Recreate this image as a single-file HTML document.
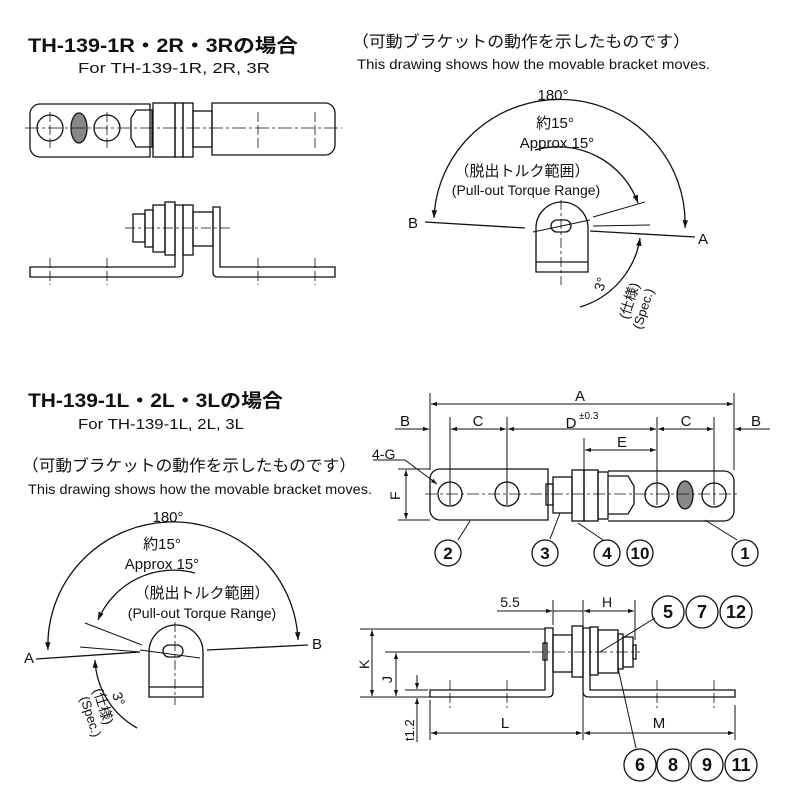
<!DOCTYPE html>
<html><head><meta charset="utf-8"><style>
html,body{margin:0;padding:0;background:#fff}
svg{display:block}
text{font-family:"Liberation Sans","Noto Sans CJK JP",sans-serif;fill:#111}
</style></head><body>
<svg width="800" height="800" viewBox="0 0 800 800" xmlns="http://www.w3.org/2000/svg">
<defs>
<marker id="ar" viewBox="0 0 10 10" refX="10" refY="5" markerWidth="8" markerHeight="6" orient="auto-start-reverse"><path d="M0,1.5L10,5L0,8.5z" fill="#111"/></marker>
</defs>
<g stroke="#111" fill="none" stroke-width="1.3">

<!-- ===== TOP LEFT ===== -->
<text x="28" y="52" font-size="19" font-weight="bold" stroke="none" textLength="270" lengthAdjust="spacingAndGlyphs">TH-139-1R・2R・3Rの場合</text>
<text x="78" y="73" font-size="15" stroke="none" textLength="192" lengthAdjust="spacingAndGlyphs">For TH-139-1R, 2R, 3R</text>
<!-- plan view -->
<path d="M40,104 H150 V157 H40 A10,10 0 0 1 30,147 V114 A10,10 0 0 1 40,104z"/>
<circle cx="50" cy="128" r="13"/><circle cx="107" cy="128" r="13"/>
<ellipse cx="79" cy="128" rx="8" ry="15" fill="#888"/>
<path d="M136,110 H152 V147 H136 L131,138 V118z"/>
<rect x="153" y="103" width="22" height="54"/><rect x="175" y="103" width="8" height="54"/><rect x="183" y="103" width="10" height="54"/>
<rect x="193" y="111" width="19" height="36"/>
<path d="M212,103 H325 A10,10 0 0 1 335,113 V145 A10,10 0 0 1 325,155 H212z"/>
<path d="M25,128 H342" stroke-width="0.8" stroke-dasharray="14,3,3,3"/>
<path d="M258,112 V150 M315,112 V150 M50,112 V150 M107,112 V150" stroke-width="0.8" stroke-dasharray="10,3"/>
<!-- side view -->
<path d="M30,267 H175 V205 H183 V272 Q183,277 178,277 H30z"/>
<path d="M213,207 H220 V267 H335 V277 H218 Q213,277 213,272z"/>
<rect x="165" y="202" width="10" height="53"/><rect x="153" y="205" width="12" height="47"/>
<rect x="145" y="210" width="8" height="37"/><rect x="133" y="214" width="12" height="28"/>
<rect x="183" y="205" width="10" height="50"/><rect x="193" y="212" width="20" height="34"/>
<path d="M125,228 H230" stroke-width="0.8" stroke-dasharray="10,3,3,3"/>
<path d="M50,258 V285 M107,258 V285 M258,258 V285 M315,258 V285" stroke-width="0.8" stroke-dasharray="10,3"/>

<!-- ===== TOP RIGHT ===== -->
<text x="352" y="47" font-size="16" stroke="none" textLength="338" lengthAdjust="spacingAndGlyphs">（可動ブラケットの動作を示したものです）</text>
<text x="357" y="69" font-size="14" stroke="none" textLength="353" lengthAdjust="spacingAndGlyphs">This drawing shows how the movable bracket moves.</text>
<text x="553" y="100" font-size="15" stroke="none" text-anchor="middle">180°</text>
<path d="M434,218 A124,122 0 0 1 685,228" marker-start="url(#ar)" marker-end="url(#ar)"/>
<text x="555" y="128" font-size="15" stroke="none" text-anchor="middle">約15°</text>
<text x="557" y="148" font-size="15" stroke="none" text-anchor="middle">Approx 15°</text>
<path d="M535,150 A85,85 0 0 1 638,203" marker-end="url(#ar)"/>
<path d="M580,307 A85,85 0 0 0 640,238" marker-end="url(#ar)"/>
<text x="522" y="176" font-size="15" stroke="none" text-anchor="middle">（脱出トルク範囲）</text>
<text x="526" y="195" font-size="14" stroke="none" text-anchor="middle">(Pull-out Torque Range)</text>
<text x="408" y="228" font-size="15" stroke="none">B</text>
<text x="698" y="244" font-size="15" stroke="none">A</text>
<path d="M425,222 L525,228 M590,231 L695,237"/>
<path d="M536,272 V228 A26,26 0 0 1 588,228 V272z M536,262 H588"/>
<rect x="551" y="220" width="20" height="12" rx="6"/>
<path d="M533,232 L590,220 M593,217 L645,202 M593,226 L650,225" stroke-width="1"/>
<path d="M561,200 V285" stroke-width="0.8" stroke-dasharray="10,3,3,3"/>
<g transform="translate(603,292) rotate(-72)" stroke="none"><text font-size="14" x="0" y="0">3°</text></g>
<g transform="translate(628,320) rotate(-72)" stroke="none"><text font-size="14" x="0" y="0">(仕様)</text></g>
<g transform="translate(641,330) rotate(-72)" stroke="none"><text font-size="13" x="0" y="0">(Spec.)</text></g>

<!-- ===== BOTTOM LEFT ===== -->
<text x="28" y="407" font-size="19" font-weight="bold" stroke="none" textLength="255" lengthAdjust="spacingAndGlyphs">TH-139-1L・2L・3Lの場合</text>
<text x="78" y="429" font-size="15" stroke="none" textLength="166" lengthAdjust="spacingAndGlyphs">For TH-139-1L, 2L, 3L</text>
<text x="22" y="471" font-size="16" stroke="none" textLength="334" lengthAdjust="spacingAndGlyphs">（可動ブラケットの動作を示したものです）</text>
<text x="28" y="494" font-size="14" stroke="none" textLength="344" lengthAdjust="spacingAndGlyphs">This drawing shows how the movable bracket moves.</text>
<text x="168" y="522" font-size="15" stroke="none" text-anchor="middle">180°</text>
<path d="M48,650 A124,122 0 0 1 298,640" marker-start="url(#ar)" marker-end="url(#ar)"/>
<text x="162" y="549" font-size="15" stroke="none" text-anchor="middle">約15°</text>
<text x="162" y="569" font-size="15" stroke="none" text-anchor="middle">Approx 15°</text>
<path d="M195,573 A82,82 0 0 0 98,620" marker-end="url(#ar)"/>
<path d="M137,728 A82,82 0 0 1 95,660" marker-end="url(#ar)"/>
<text x="202" y="598" font-size="15" stroke="none" text-anchor="middle">（脱出トルク範囲）</text>
<text x="202" y="618" font-size="14" stroke="none" text-anchor="middle">(Pull-out Torque Range)</text>
<text x="24" y="663" font-size="15" stroke="none">A</text>
<text x="312" y="649" font-size="15" stroke="none">B</text>
<path d="M36,659 L140,652 M207,650 L308,645"/>
<path d="M149,697 V652 A27,27 0 0 1 203,652 V697z M149,687 H203"/>
<rect x="163" y="645" width="20" height="12" rx="6"/>
<path d="M140,650 L200,658 M85,623 L142,645 M80,647 L140,652" stroke-width="1"/>
<path d="M175,622 V705" stroke-width="0.8" stroke-dasharray="10,3,3,3"/>
<g transform="translate(112,694) rotate(72)" stroke="none"><text font-size="14" x="0" y="0">3°</text></g>
<g transform="translate(93,690) rotate(72)" stroke="none"><text font-size="14" x="0" y="0">(仕様)</text></g>
<g transform="translate(80,698) rotate(72)" stroke="none"><text font-size="13" x="0" y="0">(Spec.)</text></g>

<!-- ===== BOTTOM RIGHT PLAN ===== -->
<g stroke-width="1">
<path d="M430,393 V470 M734,393 V470 M450,417 V505 M507,417 V505 M657,417 V505 M714,417 V505 M584,438 V515"/>
<path d="M431,404 H733" marker-start="url(#ar)" marker-end="url(#ar)"/>
<path d="M395,429 H429" marker-end="url(#ar)"/>
<path d="M451,429 H506" marker-start="url(#ar)" marker-end="url(#ar)"/>
<path d="M508,429 H656" marker-start="url(#ar)" marker-end="url(#ar)"/>
<path d="M658,429 H713" marker-start="url(#ar)" marker-end="url(#ar)"/>
<path d="M770,429 H735" marker-end="url(#ar)"/>
<path d="M585,450 H656" marker-start="url(#ar)" marker-end="url(#ar)"/>
<path d="M398,469 H430 M398,520 H430"/>
<path d="M406,470 V519" marker-start="url(#ar)" marker-end="url(#ar)"/>
<path d="M373,460 H405 L437,484" marker-end="url(#ar)"/>
</g>
<text x="580" y="401" font-size="15" stroke="none" text-anchor="middle">A</text>
<text x="405" y="426" font-size="15" stroke="none" text-anchor="middle">B</text>
<text x="478" y="426" font-size="15" stroke="none" text-anchor="middle">C</text>
<text x="571" y="428" font-size="15" stroke="none" text-anchor="middle">D</text>
<text x="579" y="419" font-size="10" stroke="none">±0.3</text>
<text x="686" y="426" font-size="15" stroke="none" text-anchor="middle">C</text>
<text x="756" y="426" font-size="15" stroke="none" text-anchor="middle">B</text>
<text x="622" y="447" font-size="15" stroke="none" text-anchor="middle">E</text>
<text x="372" y="459" font-size="14" stroke="none">4-G</text>
<g transform="translate(400,500) rotate(-90)" stroke="none"><text font-size="14" x="0" y="0">F</text></g>
<path d="M440,469 H548 V520 H440 A10,10 0 0 1 430,510 V479 A10,10 0 0 1 440,469z"/>
<circle cx="450" cy="494" r="12"/><circle cx="507" cy="494" r="12"/>
<rect x="546" y="484" width="7" height="21"/>
<rect x="553" y="477" width="19" height="36"/>
<rect x="572" y="470" width="12" height="51"/><rect x="584" y="470" width="14" height="51"/><rect x="598" y="472" width="10" height="47"/>
<path d="M608,471 H724 A10,10 0 0 1 734,481 V511 A10,10 0 0 1 724,521 H608"/>
<path d="M608,476 H628 L634,486 V504 L628,514 H608"/>
<circle cx="657" cy="495" r="12"/><circle cx="714" cy="495" r="12"/>
<ellipse cx="685" cy="495" rx="8" ry="14" fill="#888"/>
<path d="M425,494 H740" stroke-width="0.8" stroke-dasharray="12,3,3,3"/>
<g stroke-width="1"><path d="M470,521 L458,540 M560,513 L550,539 M578,523 L603,540 M705,520 L737,540"/></g>
<g font-size="17" font-weight="bold" text-anchor="middle">
<circle cx="448" cy="553" r="13"/><text x="448" y="559" stroke="none">2</text>
<circle cx="545" cy="553" r="13"/><text x="545" y="559" stroke="none">3</text>
<circle cx="607" cy="553" r="13"/><text x="607" y="559" stroke="none">4</text>
<circle cx="640" cy="553" r="13"/><text x="640" y="559" stroke="none">10</text>
<circle cx="745" cy="553" r="13"/><text x="745" y="559" stroke="none">1</text>
</g>

<!-- ===== BOTTOM RIGHT SIDE ===== -->
<g stroke-width="1">
<path d="M553,600 V625 M583,600 V740 M635,600 V640 M430,700 V740 M735,705 V740"/>
<path d="M497,611 H552" marker-end="url(#ar)"/>
<path d="M553,611 H583"/>
<path d="M584,611 H634" marker-start="url(#ar)" marker-end="url(#ar)"/>
<path d="M360,629 H545 M385,652 H530 M360,697 H430"/>
<path d="M372,630 V696" marker-start="url(#ar)" marker-end="url(#ar)"/>
<path d="M396,653 V696" marker-start="url(#ar)" marker-end="url(#ar)"/>
<path d="M405,690 H428"/>
<path d="M417,675 V689" marker-end="url(#ar)"/>
<path d="M417,742 V698" marker-end="url(#ar)"/>
<path d="M431,733 H582" marker-start="url(#ar)" marker-end="url(#ar)"/>
<path d="M584,733 H734" marker-start="url(#ar)" marker-end="url(#ar)"/>
<path d="M600,652 L655,618 M618,668 L636,748"/>
</g>
<text x="510" y="607" font-size="14" stroke="none" text-anchor="middle">5.5</text>
<text x="607" y="607" font-size="14" stroke="none" text-anchor="middle">H</text>
<text x="505" y="728" font-size="15" stroke="none" text-anchor="middle">L</text>
<text x="659" y="728" font-size="15" stroke="none" text-anchor="middle">M</text>
<g transform="translate(369,669) rotate(-90)" stroke="none"><text font-size="14" x="0" y="0">K</text></g>
<g transform="translate(392,683) rotate(-90)" stroke="none"><text font-size="14" x="0" y="0">J</text></g>
<g transform="translate(414,741) rotate(-90)" stroke="none"><text font-size="13" x="0" y="0">t1.2</text></g>
<path d="M430,690 H545 V628 H553 V692 Q553,697 548,697 H430z"/>
<rect x="543" y="643" width="4" height="17"/>
<rect x="553" y="635" width="19" height="37"/>
<rect x="572" y="626" width="11" height="51"/>
<path d="M583,628 H590 V690 H735 V697 H589 Q583,697 583,691z"/>
<rect x="590" y="627" width="8" height="48"/>
<rect x="598" y="630" width="20" height="43"/>
<rect x="618" y="634" width="5" height="35"/>
<rect x="623" y="637" width="10" height="30"/>
<rect x="633" y="645" width="3" height="14"/>
<path d="M385,652 H640" stroke-width="0.8" stroke-dasharray="12,3,3,3"/>
<path d="M450,680 V708 M507,680 V708 M657,680 V708 M714,680 V708" stroke-width="0.8" stroke-dasharray="10,3"/>
<g font-size="18" font-weight="bold" text-anchor="middle">
<circle cx="668" cy="612" r="16"/><text x="668" y="618" stroke="none">5</text>
<circle cx="702" cy="612" r="16"/><text x="702" y="618" stroke="none">7</text>
<circle cx="736" cy="612" r="16"/><text x="736" y="618" stroke="none">12</text>
<circle cx="640" cy="765" r="16"/><text x="640" y="771" stroke="none">6</text>
<circle cx="673" cy="765" r="16"/><text x="673" y="771" stroke="none">8</text>
<circle cx="707" cy="765" r="16"/><text x="707" y="771" stroke="none">9</text>
<circle cx="741" cy="765" r="16"/><text x="741" y="771" stroke="none">11</text>
</g>
</g>
</svg>
</body></html>
